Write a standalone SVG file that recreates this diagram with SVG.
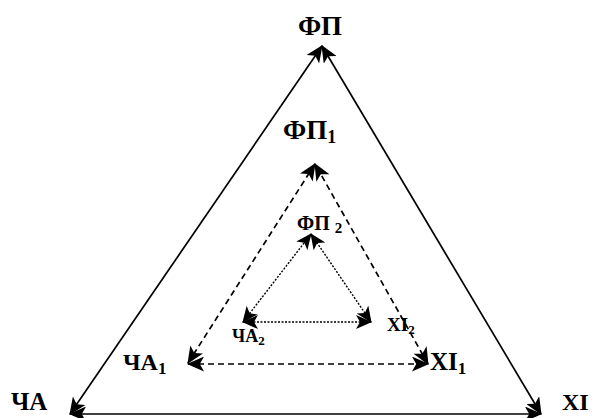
<svg xmlns="http://www.w3.org/2000/svg" width="595" height="418" viewBox="0 0 595 418">
<defs>
<marker id="ah" viewBox="0 0 16 14" refX="15" refY="7" markerWidth="18" markerHeight="15" markerUnits="userSpaceOnUse" orient="auto-start-reverse">
<path d="M0,0 L16,7 L0,14 L4,7 Z" fill="#000"/>
</marker>
<marker id="ahs" viewBox="0 0 16 14" refX="15" refY="7" markerWidth="16" markerHeight="14" markerUnits="userSpaceOnUse" orient="auto-start-reverse">
<path d="M0,0 L16,7 L0,14 L4,7 Z" fill="#000"/>
</marker>
<style>
.t{font-family:"Liberation Serif","Times New Roman",serif;font-weight:bold;fill:#000}
.l{fill:none;stroke:#000;marker-start:url(#ah);marker-end:url(#ah)}
.s{stroke-width:1.7}
.d{stroke-width:1.7;stroke-dasharray:6,4}
.o{stroke-width:1.4;stroke-dasharray:2,1.5;marker-start:url(#ahs);marker-end:url(#ahs)}
</style>
</defs>
<rect width="595" height="418" fill="#fff"/>
<g id="connectors">
<line class="l s" x1="70" y1="414" x2="322" y2="46"/>
<line class="l s" x1="541" y1="414" x2="322" y2="46"/>
<line class="l s" x1="70" y1="414" x2="541" y2="414"/>
<line class="l d" x1="188" y1="363" x2="315" y2="164"/>
<line class="l d" x1="428" y1="364" x2="315" y2="164"/>
<line class="l d" x1="188" y1="364" x2="428" y2="364"/>
<line class="l o" x1="243" y1="322" x2="311" y2="234"/>
<line class="l o" x1="371" y1="322" x2="311" y2="234"/>
<line class="l o" x1="243" y1="322" x2="371" y2="322"/>
</g>
<g id="FP"><text class="t" x="320" y="35" font-size="27" text-anchor="middle">ФП</text></g>
<g id="ChA"><text class="t" x="11" y="410" font-size="25">ЧА</text></g>
<g id="XI"><text class="t" x="562" y="410" font-size="24">XI</text></g>
<g id="FP1"><text class="t" x="283" y="139" font-size="27">ФП<tspan font-size="18" dy="4">1</tspan></text></g>
<g id="ChA1"><text class="t" x="123" y="370" font-size="24">ЧА<tspan font-size="17" dy="4">1</tspan></text></g>
<g id="XI1"><text class="t" x="430" y="370" font-size="25">XI<tspan font-size="17" dy="4">1</tspan></text></g>
<g id="FP2"><text class="t" x="297" y="230" font-size="20">ФП <tspan font-size="15" dy="3">2</tspan></text></g>
<g id="ChA2"><text class="t" x="232" y="342" font-size="18">ЧА<tspan font-size="13" dy="3">2</tspan></text></g>
<g id="XI2"><text class="t" x="387" y="331" font-size="19">XI<tspan font-size="13" dy="3">2</tspan></text></g>
</svg>
